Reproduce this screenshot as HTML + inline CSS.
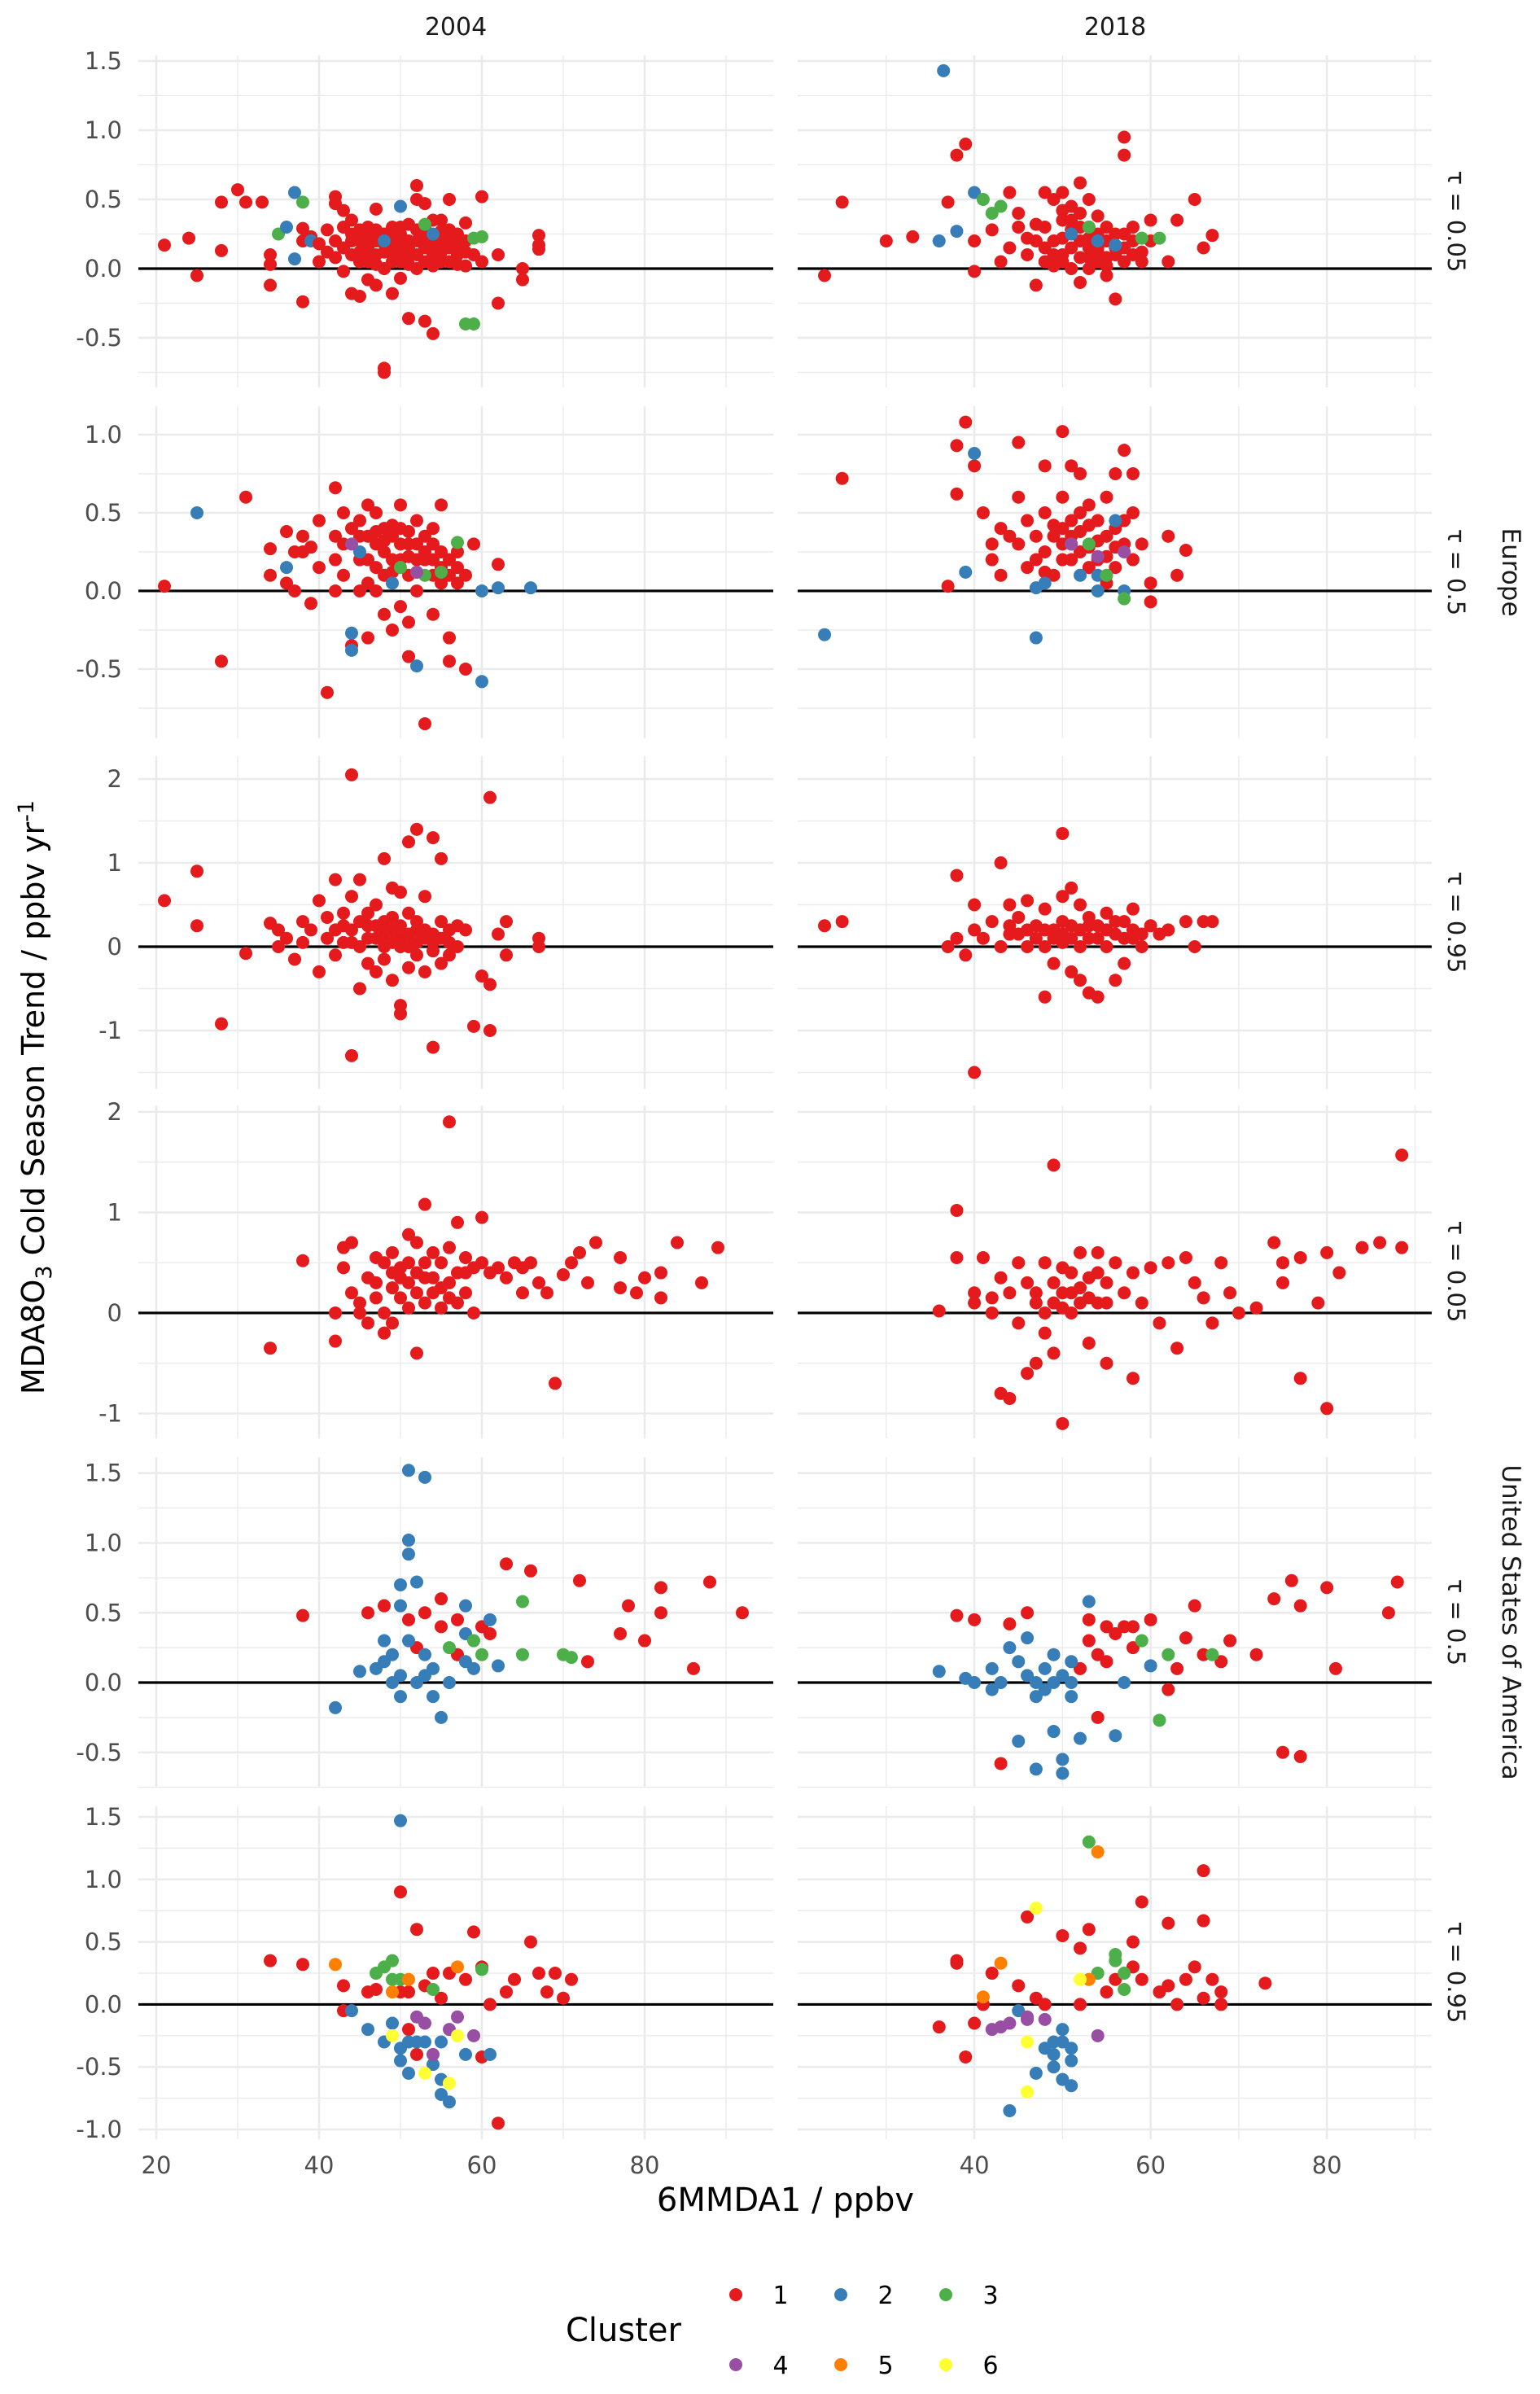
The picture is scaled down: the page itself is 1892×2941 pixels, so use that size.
<!DOCTYPE html>
<html><head><meta charset="utf-8"><style>
html,body{margin:0;padding:0;background:#fff;}
svg{display:block;font-family:"DejaVu Sans","Liberation Sans",sans-serif;}
</style></head><body>
<svg id="chart" width="1892" height="2941" viewBox="0 0 1892 2941" xmlns="http://www.w3.org/2000/svg">
<rect width="1892" height="2941" fill="#fff"/>
<g id="grid"></g><g id="pts"></g><g id="labels"></g>
<text x="560" y="43" font-size="30" fill="#1a1a1a" text-anchor="middle">2004</text>
<text x="1370" y="43" font-size="30" fill="#1a1a1a" text-anchor="middle">2018</text>
<text transform="translate(1779,272) rotate(90)" font-size="29" fill="#1a1a1a" text-anchor="middle">τ = 0.05</text>
<text transform="translate(1779,703) rotate(90)" font-size="29" fill="#1a1a1a" text-anchor="middle">τ = 0.5</text>
<text transform="translate(1779,1133) rotate(90)" font-size="29" fill="#1a1a1a" text-anchor="middle">τ = 0.95</text>
<text transform="translate(1779,1562) rotate(90)" font-size="29" fill="#1a1a1a" text-anchor="middle">τ = 0.05</text>
<text transform="translate(1779,1993) rotate(90)" font-size="29" fill="#1a1a1a" text-anchor="middle">τ = 0.5</text>
<text transform="translate(1779,2423) rotate(90)" font-size="29" fill="#1a1a1a" text-anchor="middle">τ = 0.95</text>
<text transform="translate(1846,703) rotate(90)" font-size="31" fill="#1a1a1a" text-anchor="middle">Europe</text>
<text transform="translate(1846,1993) rotate(90)" font-size="31" fill="#1a1a1a" text-anchor="middle">United States of America</text>
<text transform="translate(54,1348) rotate(-90)" font-size="38" fill="#000" text-anchor="middle">MDA8O<tspan font-size="27" dy="9">3</tspan><tspan dy="-9"> Cold Season Trend / ppbv yr</tspan><tspan font-size="27" dy="-13">-1</tspan></text>
<text x="965" y="2716" font-size="40" fill="#000" text-anchor="middle">6MMDA1 / ppbv</text>
<text x="695" y="2876" font-size="40" fill="#000">Cluster</text>
<g id="legend"></g>
</svg>
<script>
const NS="http://www.w3.org/2000/svg";
const COLORS=["#E41A1C","#377EB8","#4DAF4A","#984EA3","#FF7F00","#FFFF33"];
// panel data: [x, y, cluster]
const eu005_2004=[[21,0.17],[24,0.22],[25,-0.05],[28,0.13],[28,0.48],[30,0.57],[31,0.48],[33,0.48],[34,0.03],[34,0.1],[34,-0.12],[35,0.25,3],[36,0.3,2],[37,0.55,2],[37,0.07,2],[38,0.48,3],[38,0.29],[38,0.2],[38,-0.24],[39,0.23],[39,0.2,2],[40,0.05],[41,0.28],[41,0.12],[42,0.47],[42,0.52],[43,0.42],[43,0.3],[43,0.15],[43,-0.02],[44,0.2],[44,0.35],[44,-0.18],[45,0.12],[45,0.2],[45,-0.2],[46,0.3],[46,0.15],[46,0.05],[46,-0.08],[47,0.43],[47,0.2],[47,0.1],[47,-0.12],[48,0.25],[48,0.0],[48,-0.75],[48,-0.72],[49,0.3],[49,0.15],[49,-0.18],[50,0.25],[50,-0.07],[50,0.05],[51,0.1],[51,-0.36],[51,0.32],[52,0.6],[52,0.5],[52,0.2],[52,0.0],[53,0.47],[53,-0.38],[53,0.15],[54,0.35],[54,-0.47],[54,0.1],[55,0.2],[55,0.35],[55,0.05],[56,0.5],[56,0.28],[56,0.15],[57,0.25],[57,0.1],[58,0.33],[58,0.02],[60,0.52],[60,0.05],[62,-0.25],[62,0.1],[65,0.0],[65,-0.08],[67,0.24],[67,0.17],[67,0.14],
[44,0.1],[45,0.05],[46,0.22],[47,0.03],[48,0.12],[48,0.18],[49,0.05],[49,0.22],[50,0.12],[50,0.18],[51,0.2],[51,0.03],[52,0.1],[52,0.28],[53,0.05],[53,0.22],[54,0.18],[54,0.02],[55,0.12],[56,0.05],[56,0.2],[57,0.18],[57,0.03],[58,0.12],[58,0.2],[59,0.1],[50,0.3],[49,0.1],[47,0.28],[46,0.12],[55,0.27],[53,0.3],[51,0.15],[45,0.28],[44,0.25],[42,0.2],[42,0.08],[40,0.18],
[48,0.2,2],[50,0.45,2],[54,0.25,2],[53,0.32,3],[58,-0.4,3],[59,0.22,3],[59,-0.4,3],[60,0.23,3]];
const eu005_2018=[[23,-0.05],[25,0.48],[30,0.2],[33,0.23],[37,0.48],[38,0.82],[39,0.9],[40,0.2],[40,-0.02],[42,0.28],[43,0.05],[44,0.55],[44,0.15],[45,0.4],[45,0.3],[46,0.22],[46,0.1],[47,0.2],[47,-0.12],[48,0.55],[48,0.3],[48,0.15],[49,0.5],[49,0.2],[49,0.02],[50,0.55],[50,0.35],[50,0.1],[51,0.45],[51,0.0],[52,0.62],[52,0.4],[52,0.2],[52,-0.1],[53,0.5],[53,0.15],[53,0.0],[54,0.25],[54,0.05],[55,0.3],[55,-0.05],[56,-0.22],[56,0.1],[57,0.95],[57,0.82],[57,0.25],[58,0.3],[60,0.35],[60,0.2],[62,0.05],[63,0.35],[65,0.5],[66,0.15],[67,0.24],
[49,0.1],[50,0.22],[50,0.05],[51,0.15],[51,0.28],[52,0.08],[52,0.3],[53,0.22],[53,0.08],[54,0.15],[54,0.12],[55,0.2],[55,0.08],[56,0.25],[56,0.15],[57,0.05],[57,0.15],[58,0.1],[58,0.2],[59,0.12],[59,0.05],[50,0.42],[51,0.35],[53,0.3],[48,0.05],[47,0.32],[55,0.02],[54,0.38],
[36.5,1.43,2],[36,0.2,2],[38,0.27,2],[40,0.55,2],[51,0.25,2],[54,0.2,2],[56,0.17,2],[41,0.5,3],[42,0.4,3],[43,0.45,3],[53,0.3,3],[59,0.22,3],[61,0.22,3]];
const eu05_2004=[[21,0.03],[28,-0.45],[31,0.6],[34,0.27],[34,0.1],[36,0.38],[36,0.05],[37,0.25],[37,0.0],[38,0.35],[38,0.25],[39,0.28],[39,-0.08],[40,0.45],[40,0.15],[41,-0.65],[42,0.66],[42,0.35],[42,0.2],[42,0.0],[43,0.5],[43,0.3],[43,0.1],[44,-0.35],[45,0.45],[45,0.35],[45,0.0],[46,0.55],[46,0.2],[46,0.05],[46,-0.3],[47,0.5],[47,0.3],[47,0.15],[47,0.0],[48,0.4],[48,0.25],[48,0.1],[48,-0.15],[49,0.35],[49,0.2],[49,-0.25],[50,0.55],[50,0.3],[50,-0.1],[51,0.3],[51,0.1],[51,-0.42],[51,-0.2],[52,0.45],[52,0.2],[52,0.0],[53,0.35],[53,-0.85],[54,0.3],[54,0.1],[54,-0.15],[55,0.25],[55,0.55],[55,0.05],[56,0.2],[56,-0.3],[56,-0.45],[57,0.05],[57,0.25],[58,0.1],[58,-0.5],[59,0.3],[62,0.17],
[48,0.32],[49,0.42],[50,0.2],[50,0.4],[51,0.22],[51,0.38],[52,0.3],[53,0.2],[53,0.25],[54,0.2],[54,0.4],[55,0.15],[49,0.12],[47,0.38],[46,0.35],[44,0.4],[45,0.2],[56,0.1],[57,0.15],[52,0.12],
[25,0.5,2],[36,0.15,2],[44,-0.27,2],[44,-0.38,2],[45,0.25,2],[49,0.05,2],[52,-0.48,2],[60,0.0,2],[60,-0.58,2],[62,0.02,2],[66,0.02,2],[50,0.15,3],[53,0.1,3],[55,0.12,3],[57,0.31,3],[44,0.3,4],[52,0.12,4]];
const eu05_2018=[[25,0.72],[37,0.03],[38,0.62],[38,0.93],[39,1.08],[40,0.8],[41,0.5],[42,0.3],[42,0.2],[43,0.4],[43,0.1],[44,0.35],[45,0.95],[45,0.6],[45,0.3],[46,0.45],[46,0.15],[48,0.8],[48,0.5],[48,0.25],[49,0.35],[49,0.1],[50,1.02],[50,0.6],[50,0.3],[50,0.2],[51,0.8],[51,0.45],[52,0.75],[52,0.5],[52,0.25],[53,0.55],[53,0.15],[54,0.45],[54,0.2],[55,0.6],[55,0.35],[55,0.05],[56,0.75],[56,0.4],[56,0.15],[57,0.9],[57,0.3],[58,0.75],[58,0.5],[58,0.2],[59,0.3],[60,-0.07],[60,0.05],[62,0.35],[63,0.1],[64,0.26],
[49,0.42],[50,0.4],[51,0.2],[51,0.35],[52,0.38],[53,0.42],[53,0.28],[54,0.32],[55,0.22],[56,0.28],[57,0.45],[47,0.35],[47,0.2],[48,0.12],
[23,-0.28,2],[39,0.12,2],[40,0.88,2],[47,-0.3,2],[47,0.02,2],[48,0.05,2],[52,0.1,2],[54,0.1,2],[54,0.0,2],[56,0.45,2],[57,0.0,2],[51,0.3,3],[53,0.3,3],[55,0.1,3],[57,-0.05,3],[51,0.3,4],[54,0.22,4],[57,0.25,4]];
const eu095_2004=[[21,0.55],[25,0.9],[25,0.25],[28,-0.92],[31,-0.08],[34,0.28],[35,0.2],[35,0.0],[36,0.1],[37,-0.15],[38,0.3],[38,0.05],[39,0.2],[40,0.55],[40,-0.3],[41,0.1],[41,0.35],[42,0.8],[42,0.2],[42,-0.1],[43,0.4],[43,0.05],[44,2.05],[44,0.6],[44,0.2],[44,-1.3],[45,0.8],[45,0.3],[45,0.0],[45,-0.5],[46,0.25],[46,-0.2],[47,0.5],[47,0.1],[47,-0.3],[48,1.05],[48,0.3],[48,0.0],[48,-0.15],[49,0.7],[49,0.2],[49,-0.4],[50,0.65],[50,0.1],[50,-0.7],[50,-0.8],[51,1.25],[51,0.4],[51,0.0],[51,-0.25],[52,1.4],[52,0.2],[52,-0.1],[53,0.6],[53,-0.3],[53,0.1],[54,1.3],[54,0.05],[54,-1.2],[55,1.05],[55,0.3],[55,-0.2],[56,0.2],[57,0.0],[58,0.2],[59,-0.95],[60,-0.35],[61,1.78],[61,-1.0],[61,-0.45],[62,0.15],[63,0.3],[63,-0.1],[67,0.1],[67,0.0],
[46,0.1],[47,0.25],[48,0.15],[49,0.05],[49,0.35],[50,0.25],[50,0.0],[51,0.15],[52,0.3],[52,0.05],[53,0.2],[54,0.15],[54,-0.05],[55,0.1],[56,0.05],[56,-0.1],[57,0.25],[46,0.4],[44,0.05],[43,0.25]];
const eu095_2018=[[23,0.25],[25,0.3],[37,0.0],[38,0.85],[38,0.1],[39,-0.1],[40,0.5],[40,0.2],[40,-1.5],[41,0.1],[42,0.3],[43,1.0],[43,0.0],[44,0.5],[44,0.15],[45,0.35],[46,0.0],[46,0.55],[47,0.1],[47,0.25],[48,-0.6],[48,0.45],[48,0.0],[49,0.2],[49,-0.2],[50,1.35],[50,0.6],[50,0.3],[51,0.7],[51,0.1],[51,-0.3],[52,0.5],[52,0.0],[52,-0.4],[53,0.35],[53,0.1],[53,-0.55],[54,0.25],[54,-0.6],[55,0.4],[55,0.0],[56,0.15],[56,-0.4],[57,0.3],[57,-0.2],[58,0.45],[58,0.1],[59,0.0],[60,0.25],[61,0.15],[62,0.2],[64,0.3],[65,0.0],[66,0.3],[67,0.3],
[48,0.2],[49,0.1],[50,0.15],[50,0.05],[51,0.25],[52,0.2],[53,0.25],[54,0.1],[55,0.2],[56,0.3],[57,0.1],[45,0.15],[46,0.2],[44,0.25],[58,0.2],[59,0.15]];
const us005_2004=[[34,-0.35],[38,0.52],[42,-0.28],[42,0.0],[43,0.45],[43,0.65],[44,0.7],[44,0.2],[45,0.1],[45,0.0],[46,0.35],[46,-0.1],[47,0.55],[47,0.3],[48,0.5],[48,0.0],[48,-0.2],[49,0.6],[49,0.25],[49,-0.1],[50,0.45],[50,0.15],[51,0.78],[51,0.5],[51,0.3],[51,0.05],[52,0.7],[52,0.4],[52,-0.4],[53,1.08],[53,0.35],[53,0.1],[54,0.6],[54,0.2],[55,0.5],[55,0.05],[56,1.9],[56,0.65],[56,0.3],[57,0.9],[57,0.4],[57,0.1],[58,0.55],[58,0.2],[59,0.45],[59,0.0],[60,0.95],[60,0.5],[61,0.4],[62,0.45],[63,0.35],[64,0.5],[65,0.2],[65,0.45],[66,0.5],[67,0.3],[68,0.2],[69,-0.7],[70,0.38],[71,0.5],[72,0.6],[73,0.3],[74,0.7],[77,0.55],[77,0.25],[79,0.2],[80,0.35],[82,0.4],[82,0.15],[84,0.7],[87,0.3],[89,0.65],
[50,0.35],[52,0.2],[53,0.5],[54,0.35],[55,0.25],[56,0.15],[58,0.4],[49,0.4],[47,0.15]];
const us005_2018=[[36,0.02],[38,1.02],[38,0.55],[40,0.2],[40,0.1],[41,0.55],[42,0.15],[42,0.0],[43,0.35],[43,-0.8],[44,0.2],[44,-0.85],[45,0.5],[45,-0.1],[46,0.3],[46,-0.6],[47,0.1],[47,-0.5],[48,0.5],[48,0.0],[48,-0.2],[49,1.47],[49,0.3],[49,-0.4],[50,0.2],[50,-1.1],[50,0.45],[51,0.4],[51,0.0],[52,0.6],[52,0.25],[53,0.35],[53,-0.3],[54,0.6],[54,0.1],[55,-0.5],[55,0.3],[56,0.5],[57,0.2],[58,-0.65],[58,0.4],[59,0.1],[60,0.45],[61,-0.1],[62,0.5],[63,-0.35],[64,0.55],[65,0.3],[66,0.15],[67,-0.1],[68,0.5],[69,0.2],[70,0.0],[72,0.05],[74,0.7],[75,0.3],[75,0.5],[77,-0.65],[77,0.55],[79,0.1],[80,0.6],[80,-0.95],[81.4,0.4],[84,0.65],[86,0.7],[88.5,1.57],[88.5,0.65],
[47,0.2],[49,0.1],[50,0.05],[51,0.2],[52,0.1],[53,0.15],[54,0.4],[55,0.1]];
const us05_2004=[[38,0.48],[46,0.5],[48,0.55],[51,0.45],[52,0.25],[53,0.5],[55,0.4],[55,0.6],[57,0.2],[57,0.45],[60,0.4],[61,0.35],[63,0.85],[66,0.8],[72,0.73],[73,0.15],[77,0.35],[78,0.55],[80,0.3],[82,0.68],[82,0.5],[86,0.1],[88,0.72],[92,0.5],
[42,-0.18,2],[45,0.08,2],[47,0.1,2],[48,0.3,2],[49,0.0,2],[49,0.2,2],[50,0.7,2],[50,0.05,2],[50,-0.1,2],[50,0.55,2],[51,1.52,2],[51,1.02,2],[51,0.92,2],[51,0.3,2],[52,0.0,2],[52,0.72,2],[53,1.47,2],[53,0.2,2],[54,-0.1,2],[54,0.1,2],[55,-0.25,2],[56,0.0,2],[58,0.55,2],[58,0.35,2],[58,0.15,2],[59,0.1,2],[61,0.45,2],[62,0.12,2],[48,0.15,2],[53,0.05,2],
[56,0.25,3],[59,0.3,3],[60,0.2,3],[65,0.58,3],[65,0.2,3],[70,0.2,3],[71,0.18,3]];
const us05_2018=[[38,0.48],[40,0.45],[43,-0.58],[44,0.42],[46,0.5],[52,0.1],[53,0.3],[53,0.45],[54,0.2],[54,-0.25],[55,0.4],[55,0.15],[56,0.35],[57,0.4],[58,0.25],[58,0.4],[60,0.45],[62,-0.05],[63,0.1],[64,0.32],[65,0.55],[66,0.2],[68,0.15],[69,0.3],[72,0.2],[74,0.6],[75,-0.5],[76,0.73],[77,-0.53],[77,0.55],[80,0.68],[81,0.1],[87,0.5],[88,0.72],
[36,0.08,2],[39,0.03,2],[40,0.0,2],[42,0.1,2],[42,-0.05,2],[43,0.0,2],[44,0.25,2],[45,-0.42,2],[45,0.15,2],[46,0.05,2],[46,0.32,2],[47,0.0,2],[47,-0.1,2],[47,-0.62,2],[48,0.1,2],[48,-0.05,2],[49,-0.35,2],[49,0.2,2],[50,-0.65,2],[50,-0.55,2],[50,0.05,2],[51,-0.1,2],[51,0.15,2],[52,-0.4,2],[53,0.58,2],[56,-0.38,2],[57,0.0,2],[60,0.12,2],[49,0.0,2],[51,0.0,2],
[59,0.3,3],[61,-0.27,3],[62,0.2,3],[67,0.2,3]];
const us095_2004=[[34,0.35],[38,0.32],[43,0.15],[43,-0.05],[46,0.1],[47,0.12],[50,0.9],[50,0.1],[51,0.1],[51,-0.2],[52,0.6],[52,-0.4],[53,0.15],[54,0.25],[55,0.05],[56,0.25],[58,0.2],[59,0.58],[60,0.3],[60,-0.42],[61,0.0],[62,-0.95],[63,0.1],[64,0.2],[66,0.5],[67,0.25],[68,0.1],[69,0.25],[70,0.05],[71,0.2],
[44,-0.05,2],[46,-0.2,2],[48,-0.3,2],[50,1.47,2],[50,-0.35,2],[50,-0.45,2],[51,-0.55,2],[52,-0.3,2],[53,-0.3,2],[54,-0.48,2],[55,-0.6,2],[55,-0.3,2],[55,-0.72,2],[56,-0.78,2],[58,-0.4,2],[61,-0.4,2],[49,-0.15,2],[51,-0.3,2],
[47,0.25,3],[48,0.3,3],[49,0.35,3],[49,0.2,3],[50,0.2,3],[54,0.12,3],[60,0.28,3],
[52,-0.1,4],[53,-0.15,4],[54,-0.4,4],[56,-0.2,4],[57,-0.1,4],[59,-0.25,4],
[42,0.32,5],[49,0.1,5],[51,0.2,5],[57,0.3,5],
[49,-0.25,6],[53,-0.55,6],[56,-0.63,6],[57,-0.25,6]];
const us095_2018=[[36,-0.18],[38,0.33],[38,0.35],[39,-0.42],[40,-0.15],[41,0.0],[42,0.25],[45,0.15],[46,0.7],[47,0.05],[48,0.0],[50,0.55],[52,0.45],[52,0.0],[53,0.6],[55,0.1],[56,0.2],[58,0.5],[58,0.3],[59,0.82],[59,0.2],[61,0.1],[62,0.15],[62,0.65],[63,0.0],[64,0.2],[65,0.3],[66,0.05],[66,1.07],[66,0.67],[67,0.2],[68,0.0],[68,0.1],[73,0.17],
[44,-0.85,2],[45,-0.05,2],[47,-0.55,2],[48,-0.35,2],[49,-0.5,2],[49,-0.3,2],[50,-0.2,2],[50,-0.6,2],[51,-0.45,2],[51,-0.35,2],[51,-0.65,2],[49,-0.4,2],[50,-0.3,2],
[53,1.3,3],[54,0.25,3],[56,0.4,3],[56,0.35,3],[57,0.12,3],[57,0.25,3],
[42,-0.2,4],[43,-0.18,4],[44,-0.15,4],[46,-0.1,4],[46,-0.12,4],[48,-0.12,4],[54,-0.25,4],
[41,0.06,5],[43,0.33,5],[53,0.2,5],[54,1.22,5],
[46,-0.3,6],[46,-0.7,6],[47,0.77,6],[52,0.2,6]];
const xTicksLeft=[20,40,60,80], xTicksRight=[40,60,80];
const rowYTicks=[[-0.5,0,0.5,1.0,1.5],[-0.5,0,0.5,1.0],[-1,0,1,2],[-1,0,1,2],[-0.5,0,0.5,1.0,1.5],[-1.0,-0.5,0,0.5,1.0,1.5]];
const rowTickLabels=[["-0.5","0.0","0.5","1.0","1.5"],["-0.5","0.0","0.5","1.0"],["-1","0","1","2"],["-1","0","1","2"],["-0.5","0.0","0.5","1.0","1.5"],["-1.0","-0.5","0.0","0.5","1.0","1.5"]];
// layout
const cols=[{x0:170,x1:950,d0:17.8,d1:95.8,ticks:xTicksLeft},{x0:980,x1:1759,d0:19.95,d1:91.9,ticks:xTicksRight}];
const rows=[{t:68,b:476,d0:-0.859,d1:1.541},{t:499,b:907,d0:-0.943,d1:1.182},{t:929,b:1338,d0:-1.699,d1:2.272},{t:1358,b:1767,d0:-1.247,d1:2.064},{t:1790,b:2196,d0:-0.752,d1:1.615},{t:2219,b:2628,d0:-1.078,d1:1.585}];
const panels=[[eu005_2004,eu005_2018],[eu05_2004,eu05_2018],[eu095_2004,eu095_2018],[us005_2004,us005_2018],[us05_2004,us05_2018],[us095_2004,us095_2018]];
const G=document.getElementById('grid'),P=document.getElementById('pts'),L=document.getElementById('labels');
function mk(tag,at,par){const e=document.createElementNS(NS,tag);for(const k in at)e.setAttribute(k,at[k]);par.appendChild(e);return e;}
const sx=(c,v)=>c.x0+(v-c.d0)/(c.d1-c.d0)*(c.x1-c.x0);
const sy=(r,v)=>r.b-(v-r.d0)/(r.d1-r.d0)*(r.b-r.t);
rows.forEach((r,ri)=>{
  const yt=rowYTicks[ri];
  cols.forEach((c,ci)=>{
    for(let v=10;v<=100;v+=20){if(v>c.d0&&v<c.d1){const l=mk('line',{x1:sx(c,v),x2:sx(c,v),y1:r.t,y2:r.b,stroke:'#ebebeb','stroke-width':1.4},G);}}
    c.ticks.forEach(v=>{const l=mk('line',{x1:sx(c,v),x2:sx(c,v),y1:r.t,y2:r.b,stroke:'#ebebeb','stroke-width':2.6},G);});
    const step=yt[1]-yt[0];
    for(let v=yt[0]-step/2;v<=r.d1;v+=step){if(v>r.d0){const l=mk('line',{x1:c.x0,x2:c.x1,y1:sy(r,v),y2:sy(r,v),stroke:'#ebebeb','stroke-width':1.4},G);}}
    yt.forEach(v=>{const l=mk('line',{x1:c.x0,x2:c.x1,y1:sy(r,v),y2:sy(r,v),stroke:'#ebebeb','stroke-width':2.6},G);});
    const z=mk('line',{x1:c.x0,x2:c.x1,y1:sy(r,0),y2:sy(r,0),stroke:'#000','stroke-width':3.2},P);
    
    
    panels[ri][ci].forEach(p=>{
      const cl=(p[2]||1)-1;
      const d=mk('circle',{cx:sx(c,p[0]),cy:sy(r,p[1]),r:8,fill:COLORS[cl]},P);
      
      
    });
  });
  yt.forEach((v,i)=>{const t=mk('text',{x:150,y:sy(r,v)+10,'font-size':29,fill:'#4d4d4d','text-anchor':'end'},L);t.textContent=rowTickLabels[ri][i];
    
    });
});
cols.forEach(c=>c.ticks.forEach(v=>{const t=mk('text',{x:sx(c,v),y:2670,'font-size':29,fill:'#4d4d4d','text-anchor':'middle'},L);t.textContent=String(v);
  
  }));
const legendLabels=["1","2","3","4","5","6"];
const LG=document.getElementById('legend');
legendLabels.forEach((s,i)=>{
  const x=904+(i%3)*129, y=i<3?2819:2905;
  const c=mk('circle',{cx:x,cy:y,r:8,fill:COLORS[i]},LG);
  
  
  const t=mk('text',{x:x+55,y:y+11,'font-size':30,fill:'#000','text-anchor':'middle'},LG);
  t.textContent=s;
  
  
});
</script>
</body></html>
